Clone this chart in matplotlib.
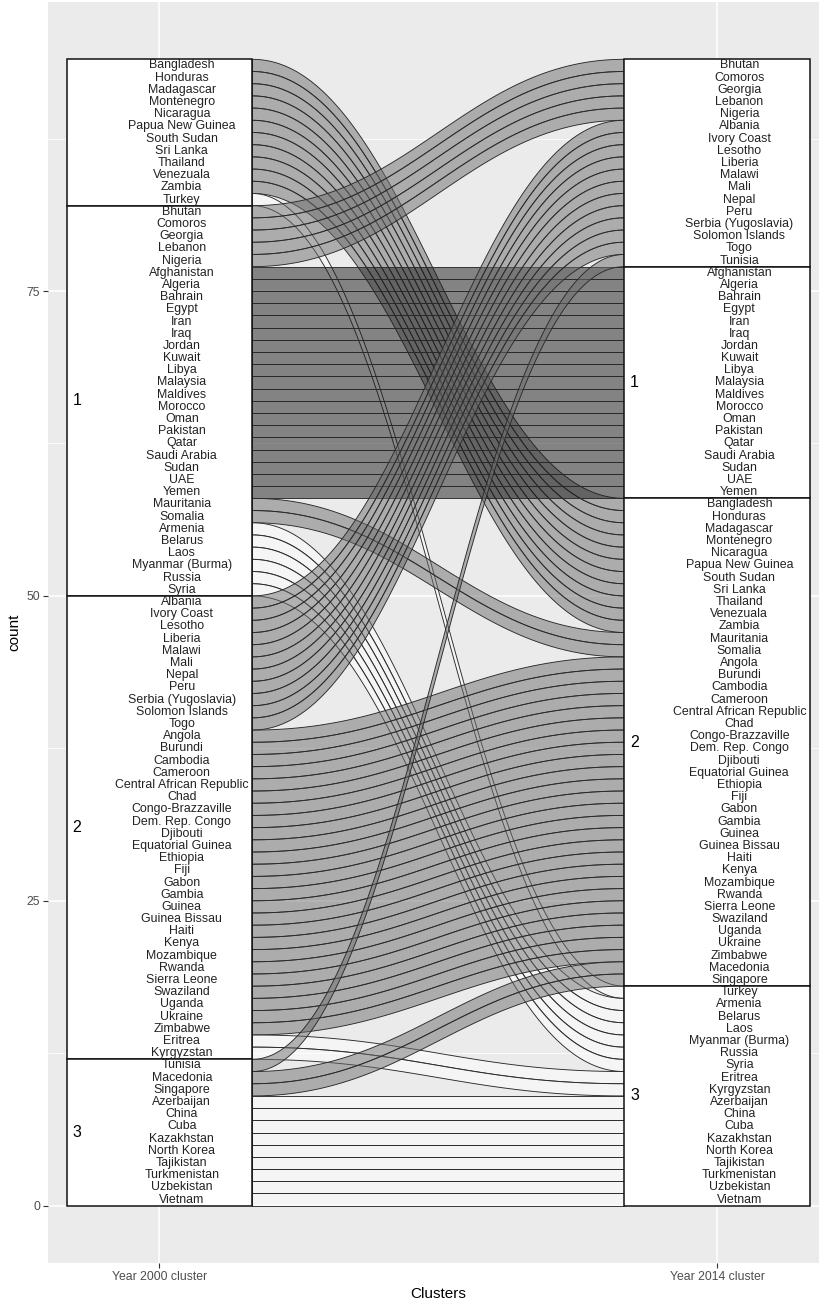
import matplotlib
matplotlib.use("Agg")
import matplotlib.pyplot as plt
from matplotlib.patches import Polygon, Rectangle
import numpy as np

plt.rcParams['font.family'] = ['Liberation Sans', 'DejaVu Sans']

# ---------------- data ----------------
axis_labels = ["Year 2000 cluster", "Year 2014 cluster"]
strata_order = ["NA", "1", "2", "3"]            # top to bottom
strata_text = {"NA": "", "1": "1", "2": "2", "3": "3"}

y2000_NA = ["Bangladesh", "Honduras", "Madagascar", "Montenegro", "Nicaragua",
            "Papua New Guinea", "South Sudan", "Sri Lanka", "Thailand", "Venezuala",
            "Zambia", "Turkey"]
y2000_1 = ["Bhutan", "Comoros", "Georgia", "Lebanon", "Nigeria", "Afghanistan",
           "Algeria", "Bahrain", "Egypt", "Iran", "Iraq", "Jordan", "Kuwait", "Libya",
           "Malaysia", "Maldives", "Morocco", "Oman", "Pakistan", "Qatar",
           "Saudi Arabia", "Sudan", "UAE", "Yemen", "Mauritania", "Somalia",
           "Armenia", "Belarus", "Laos", "Myanmar (Burma)", "Russia", "Syria"]
y2000_2 = ["Albania", "Ivory Coast", "Lesotho", "Liberia", "Malawi", "Mali", "Nepal",
           "Peru", "Serbia (Yugoslavia)", "Solomon Islands", "Togo", "Angola",
           "Burundi", "Cambodia", "Cameroon", "Central African Republic", "Chad",
           "Congo-Brazzaville", "Dem. Rep. Congo", "Djibouti", "Equatorial Guinea",
           "Ethiopia", "Fiji", "Gabon", "Gambia", "Guinea", "Guinea Bissau", "Haiti",
           "Kenya", "Mozambique", "Rwanda", "Sierra Leone", "Swaziland", "Uganda",
           "Ukraine", "Zimbabwe", "Eritrea", "Kyrgyzstan"]
y2000_3 = ["Tunisia", "Macedonia", "Singapore", "Azerbaijan", "China", "Cuba",
           "Kazakhstan", "North Korea", "Tajikistan", "Turkmenistan", "Uzbekistan",
           "Vietnam"]

y2014_NA = ["Bhutan", "Comoros", "Georgia", "Lebanon", "Nigeria", "Albania",
            "Ivory Coast", "Lesotho", "Liberia", "Malawi", "Mali", "Nepal", "Peru",
            "Serbia (Yugoslavia)", "Solomon Islands", "Togo", "Tunisia"]
y2014_1 = ["Afghanistan", "Algeria", "Bahrain", "Egypt", "Iran", "Iraq", "Jordan",
           "Kuwait", "Libya", "Malaysia", "Maldives", "Morocco", "Oman", "Pakistan",
           "Qatar", "Saudi Arabia", "Sudan", "UAE", "Yemen"]
y2014_2 = ["Bangladesh", "Honduras", "Madagascar", "Montenegro", "Nicaragua",
           "Papua New Guinea", "South Sudan", "Sri Lanka", "Thailand", "Venezuala",
           "Zambia", "Mauritania", "Somalia", "Angola", "Burundi", "Cambodia",
           "Cameroon", "Central African Republic", "Chad", "Congo-Brazzaville",
           "Dem. Rep. Congo", "Djibouti", "Equatorial Guinea", "Ethiopia", "Fiji",
           "Gabon", "Gambia", "Guinea", "Guinea Bissau", "Haiti", "Kenya",
           "Mozambique", "Rwanda", "Sierra Leone", "Swaziland", "Uganda", "Ukraine",
           "Zimbabwe", "Macedonia", "Singapore"]
y2014_3 = ["Turkey", "Armenia", "Belarus", "Laos", "Myanmar (Burma)", "Russia",
           "Syria", "Eritrea", "Kyrgyzstan", "Azerbaijan", "China", "Cuba",
           "Kazakhstan", "North Korea", "Tajikistan", "Turkmenistan", "Uzbekistan",
           "Vietnam"]

# fill of each flow by its 2014 cluster
flow_fill = {"NA": "#6E6E6E", "1": "#1C1C1C", "2": "#6E6E6E", "3": "#FFFFFF"}
flow_alpha = 0.5

# ---------------- layout helpers ----------------
def stack(groups):
    total = sum(len(g) for g in groups)
    pos, strata, member = {}, [], {}
    top = total
    for key, g in zip(strata_order, groups):
        s_top = top
        for name in g:
            pos[name] = (top - 1, top)
            member[name] = key
            top -= 1
        strata.append((key, top, s_top))
    return pos, strata, member

pos0, strata0, mem0 = stack([y2000_NA, y2000_1, y2000_2, y2000_3])
pos1, strata1, mem1 = stack([y2014_NA, y2014_1, y2014_2, y2014_3])
left_order = y2000_NA + y2000_1 + y2000_2 + y2000_3

W = 1 / 3
X = [1, 2]

fig = plt.figure(figsize=(8.19, 13.02), dpi=100)
fig.patch.set_facecolor("white")
ax = fig.add_axes([48 / 819, (1302 - 1263) / 1302, 780.5 / 819, 1261 / 1302])
ax.set_facecolor("#EBEBEB")
ax.set_xlim(0.8, 2.2)
ax.set_ylim(-4.7, 98.7)

# grid
for v in [0, 25, 50, 75]:
    ax.axhline(v, color="white", lw=1.1, zorder=0)
for v in [12.5, 37.5, 62.5, 87.5]:
    ax.axhline(v, color="white", lw=0.55, zorder=0)
for v in X:
    ax.axvline(v, color="white", lw=1.1, zorder=0)

# flows
x0, x1 = X[0] + W / 2, X[1] - W / 2
t = np.linspace(0, 1, 120)
k = 0.42
d = x1 - x0
bx = ((1 - t) ** 3) * x0 + 3 * (1 - t) ** 2 * t * (x0 + k * d) + \
     3 * (1 - t) * t ** 2 * (x1 - k * d) + t ** 3 * x1
wy = 3 * (1 - t) * t ** 2 + t ** 3

for name in left_order:
    lb, lt = pos0[name]
    rb, rt = pos1[name]
    top_c = lt + (rt - lt) * wy
    bot_c = lb + (rb - lb) * wy
    xs = np.concatenate([bx, bx[::-1]])
    ys = np.concatenate([top_c, bot_c[::-1]])
    fc = matplotlib.colors.to_rgba(flow_fill[mem1[name]], flow_alpha)
    ax.add_patch(Polygon(np.column_stack([xs, ys]), closed=True, facecolor=fc,
                         edgecolor="#2a2a2a", lw=0.65, zorder=2))

# strata boxes and labels
for xa, strata, pos in [(X[0], strata0, pos0), (X[1], strata1, pos1)]:
    for key, b, tp in strata:
        ax.add_patch(Rectangle((xa - W / 2, b), W, tp - b, facecolor="white",
                               edgecolor="#111111", lw=1.1, zorder=3))
        ax.text(xa - W / 2 + 0.011, (b + tp) / 2, strata_text[key], ha="left",
                va="center", fontsize=11.5, color="black", zorder=5)
    for name, (b, tp) in pos.items():
        ax.text(xa + 0.04, (b + tp) / 2, name, ha="center", va="center",
                fontsize=8.9, color="#222222", zorder=5)

for s in ax.spines.values():
    s.set_visible(False)
ax.set_yticks([0, 25, 50, 75])
ax.set_yticklabels(["0", "25", "50", "75"])
ax.set_xticks(X)
ax.set_xticklabels(axis_labels)
ax.tick_params(axis="both", length=3.5, width=0.8, color="#333333",
               labelcolor="#4D4D4D", labelsize=8.8, pad=2)
ax.set_ylabel("count", fontsize=11, color="black", labelpad=4)
ax.set_xlabel("Clusters", fontsize=11, color="black", labelpad=3)

fig.savefig("out.png", dpi=100)
